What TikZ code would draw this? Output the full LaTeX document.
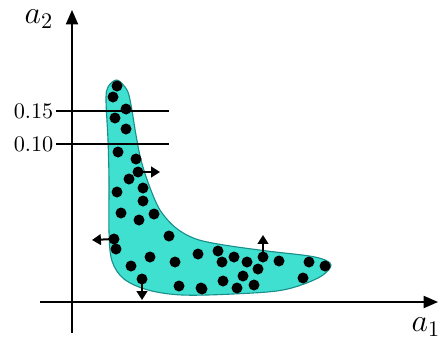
\documentclass[tikz,border=0pt]{standalone}
\usetikzlibrary{arrows.meta}
\definecolor{blobfill}{HTML}{40E0D0}
\definecolor{blobline}{HTML}{178F8A}
\tikzset{
  axis/.style={line width=0.7pt, -{Triangle[width=5.5pt,length=6.5pt]}},
  level/.style={line width=0.5pt},
  shift arrow/.style={line width=0.9pt, -{Triangle[width=4.8pt,length=4pt]}},
}
\begin{document}
\begin{tikzpicture}[x=0.45pt,y=-0.45pt]
\useasboundingbox (0,0) rectangle (439,345);
% region of the samples
\fill[blobfill, draw=blobline, line width=0.5pt] plot[smooth cycle, tension=0.55] coordinates {
  (117,80) (127,90) (131,105) (136,135) (141,160) (149,185) (160,210) (176,228)
  (196,239) (224,245) (267,251) (315,257) (331,265) (318,278) (283,290)
  (233,294) (182,295) (148,290) (124,279) (112,261) (109,232) (109,180)
  (108,140) (106,100) (108,87)};
% axes
\coordinate (xs) at (40,302);
\coordinate (xe) at (438,302);
\coordinate (ys) at (72,333);
\coordinate (ye) at (72,10);
\draw[axis] (xs) -- (xe);
\draw[axis] (ys) -- (ye);
\node (a1) at (426,327) {\Large $a_1$};
\node (a2) at (39,19) {\Large $a_2$};
% levels
\node[anchor=east, inner sep=1pt] (l15) at (56,111) {$0.15$};
\node[anchor=east, inner sep=1pt] (l10) at (56,144) {$0.10$};
\coordinate (e15) at (169,111);
\coordinate (e10) at (169,144);
\draw[level] (l15.east) -- (e15);
\draw[level] (l10.east) -- (e10);
% samples
\foreach \p in {(117,86),(113,97),(126,109),(115,118),(126,129),(118,152),
  (136,159),(129,179),(117,192),(143,188),(143,201),(121,213),(139,220),
  (154,214),(169,236),(116,249),(131,266),(150,257),(175,262),(179,286),
  (201,288),(198,254),(218,251),(222,262),(234,257),(247,262),(258,269),
  (243,276),(223,281),(237,288),(254,285),(202,289),(279,261),(309,262),
  (325,266),(303,278)}
  \fill \p circle (5.5);
% samples that are moved
\coordinate (m1) at (138,172);
\coordinate (m2) at (114,239);
\coordinate (m3) at (142,279);
\coordinate (m4) at (263,257);
\coordinate (t1) at (160,172);
\coordinate (t2) at (92,240);
\coordinate (t3) at (142,300);
\coordinate (t4) at (263,235);
\foreach \m in {m1,m2,m3,m4} \fill (\m) circle (5.5);
\draw[shift arrow] (m1) -- (t1);
\draw[shift arrow] (m2) -- (t2);
\draw[shift arrow] (m3) -- (t3);
\draw[shift arrow] (m4) -- (t4);
\end{tikzpicture}
\end{document}
